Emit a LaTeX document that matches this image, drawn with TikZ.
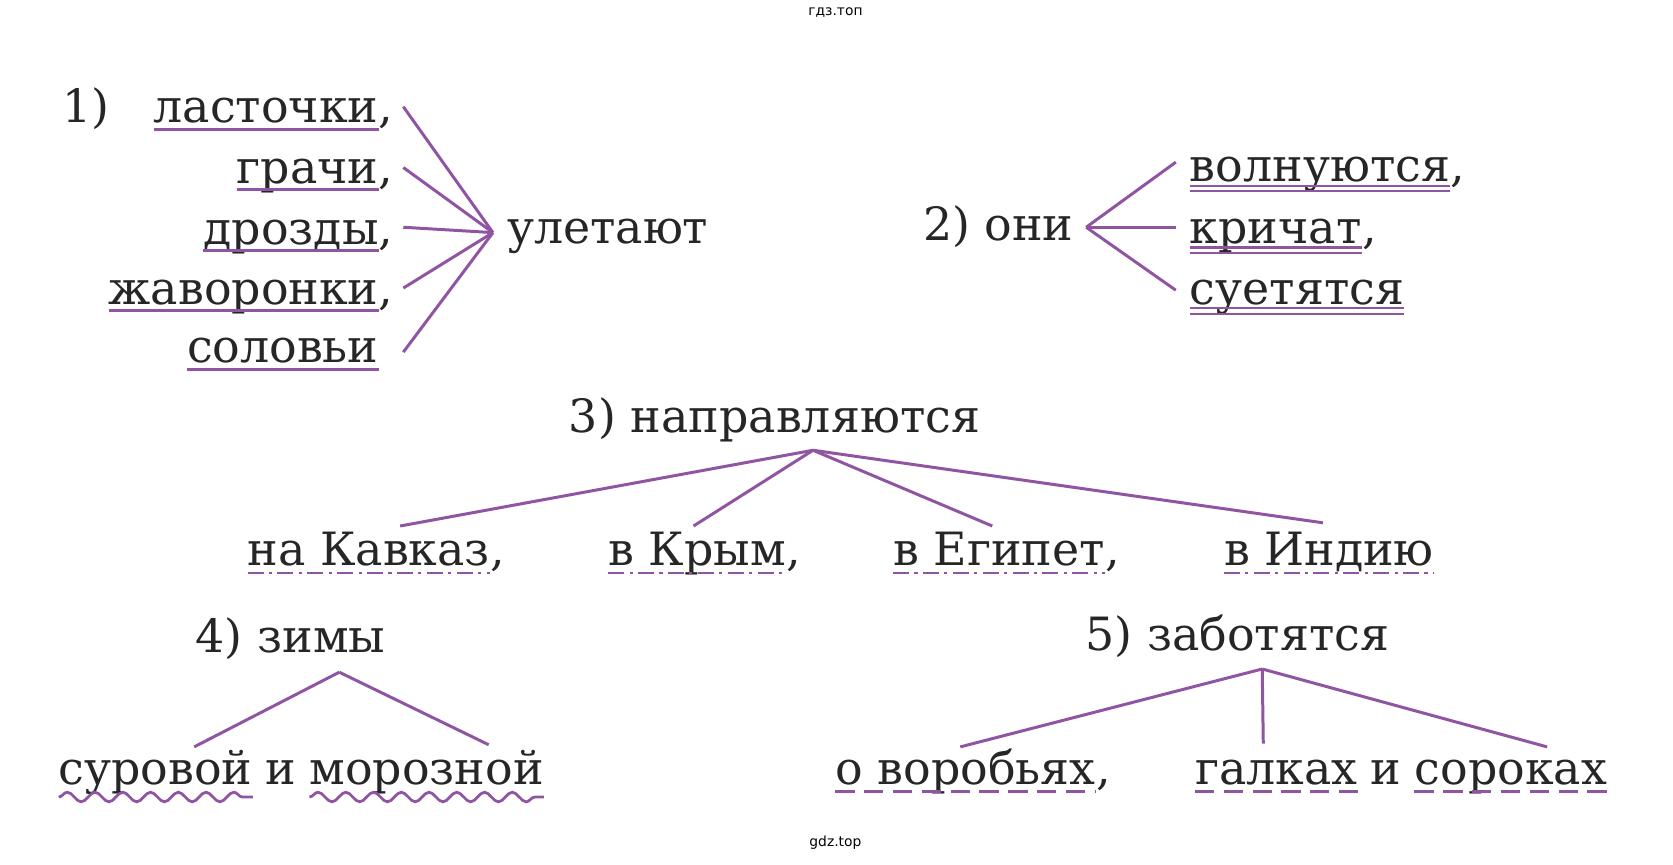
\documentclass[tikz,border=0pt]{standalone}
\usepackage{fontspec}
\setmainfont{DejaVu Serif}
\newfontfamily\smallsans{DejaVu Sans}
\usetikzlibrary{calc,decorations.pathmorphing}
\definecolor{lil}{HTML}{9055A2}
\begin{document}
\begin{tikzpicture}[x=1pt,y=-1pt,
  w/.style={inner sep=0pt,text=black!85,font=\fontsize{43}{43}\selectfont},
  ln/.style={draw=lil,line width=2.8pt},
  ul/.style={lil,line width=2.8pt},
  wave/.style={lil,line width=2.6pt,decorate,decoration={snake,segment length=26pt,amplitude=4.5pt}},
  dsh/.style={lil,line width=3pt,dash pattern=on 18pt off 9pt},
  dd/.style={lil,line width=2.6pt,dash pattern=on 15pt off 5pt on 3pt off 5pt}]
\useasboundingbox (0,0) rectangle (1568,810);
\node[font=\smallsans\fontsize{13}{13}\selectfont] (t1) at (783,12) {гдз.топ};
\node[font=\smallsans\fontsize{13}{13}\selectfont] (t2) at (783,790) {gdz.top};
% 1
\node[w,anchor=base west] (n1) at (58,115) {1)};
\foreach \nm/\t/\y in {a/ласточки/115,b/грачи/172,c/дрозды/229,d/жаворонки/285,e/соловьи/340}{
  \node[w,anchor=base east] (\nm) at (355,\y) {\t};
  \draw[ul] ($(\nm.base west)+(0,6)$) -- ($(\nm.base east)+(0,6)$);
}
\foreach \nm in {a,b,c,d}{\node[w,anchor=base west] (\nm c) at (\nm.base east) {,};}
\node[w,anchor=base west] (ul) at (475,228) {улетают};
\coordinate (h1) at (462,218);
\foreach \nm/\y in {a/100,b/157,c/213,d/270,e/330}{\coordinate (\nm p) at (378,\y); \draw[ln] (\nm p) -- (h1);}
% 2
\node[w,anchor=base west] (oni) at (865,225) {2) они};
\coordinate (h2) at (1018,213);
\node[w,anchor=base west] (v) at (1115,170) {волнуются};
\node[w,anchor=base west] (k) at (1115,228) {кричат};
\node[w,anchor=base west] (s) at (1115,285) {суетятся};
\node[w,anchor=base west] (vc) at (v.base east) {,};
\node[w,anchor=base west] (kc) at (k.base east) {,};
\foreach \nm in {v,k,s}{
  \draw[ul,line width=2pt] ($(\nm.base west)+(0,4)$) -- ($(\nm.base east)+(0,4)$);
  \draw[ul,line width=2pt] ($(\nm.base west)+(0,9)$) -- ($(\nm.base east)+(0,9)$);
}
\coordinate (v1) at (1102,152); \coordinate (k1) at (1102,213); \coordinate (s1) at (1102,272);
\foreach \q in {v1,k1,s1}{\draw[ln] (h2) -- (\q);}
% 3
\node[w,anchor=base west] (n3) at (533,405) {3)\hspace{14pt}направляются};
\coordinate (h3) at (762,422);
\node[w,anchor=base west] (g1) at (232,530) {на Кавказ};
\node[w,anchor=base west] (g2) at (570,530) {в Крым};
\node[w,anchor=base west] (g3) at (837,530) {в Египет};
\node[w,anchor=base west] (g4) at (1147,530) {в Индию};
\foreach \g in {g1,g2,g3}{\node[w,anchor=base west] at (\g.base east) {,};}
\foreach \g in {g1,g2,g3,g4}{\draw[dd] ($(\g.base west)+(0,7)$) -- ($(\g.base east)+(0,7)$);}
\coordinate (e1) at (375,493); \coordinate (e2) at (650,493); \coordinate (e3) at (930,493); \coordinate (e4) at (1240,490);
\foreach \q in {e1,e2,e3,e4}{\draw[ln] (h3) -- (\q);}
% 4
\node[w,anchor=base west] (n4) at (183,612) {4)\hspace{14pt}зимы};
\coordinate (h4) at (318,630);
\node[w,anchor=base west] (su) at (55,735) {суровой};
\node[w,anchor=base west] (i4) at ($(su.base east)+(12,0)$) {и};
\node[w,anchor=base west] (mo) at ($(i4.base east)+(12,0)$) {морозной};
\draw[wave] ($(su.base west)+(0,12)$) -- ($(su.base east)+(0,12)$);
\draw[wave] ($(mo.base west)+(0,12)$) -- ($(mo.base east)+(0,12)$);
\coordinate (f1) at (182,700); \coordinate (f2) at (458,698);
\draw[ln] (h4) -- (f1); \draw[ln] (h4) -- (f2);
% 5
\node[w,anchor=base west] (n5) at (1017,610) {5)\hspace{14pt}заботятся};
\coordinate (h5) at (1183,627);
\node[w,anchor=base west] (vo) at (783,735) {о воробьях};
\node[w,anchor=base west] at (vo.base east) {,};
\node[w,anchor=base west] (ga) at (1120,735) {галках};
\node[w,anchor=base west] (i5) at ($(ga.base east)+(12,0)$) {и};
\node[w,anchor=base west] (so) at ($(i5.base east)+(12,0)$) {сороках};
\foreach \g in {vo,ga,so}{\draw[dsh] ($(\g.base west)+(0,7)$) -- ($(\g.base east)+(0,7)$);}
\coordinate (m1) at (900,700); \coordinate (m2) at (1184,697); \coordinate (m3) at (1450,700);
\foreach \q in {m1,m2,m3}{\draw[ln] (h5) -- (\q);}
\end{tikzpicture}
\end{document}
